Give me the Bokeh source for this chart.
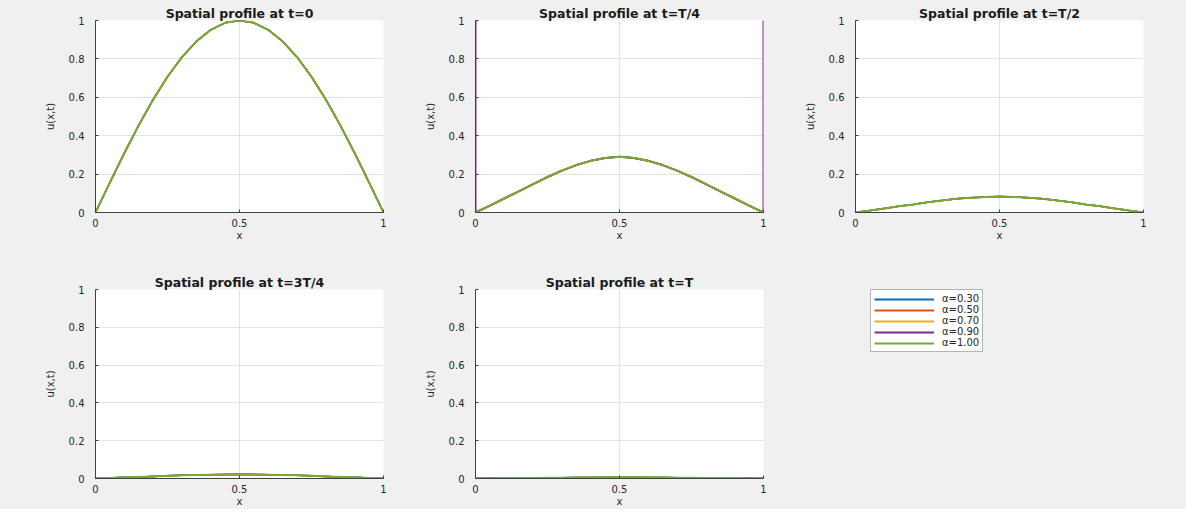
from bokeh.plotting import figure
from bokeh.layouts import column, row
from bokeh.models import Range1d, FixedTicker, Legend, LegendItem, CustomJSTickFormatter
from bokeh.embed import file_html
from bokeh.resources import INLINE

# ---------------- data ----------------
x = [0.0, 0.05, 0.10, 0.15, 0.20, 0.25, 0.30, 0.35, 0.40, 0.45, 0.50,
     0.55, 0.60, 0.65, 0.70, 0.75, 0.80, 0.85, 0.90, 0.95, 1.0]

alpha_labels = ["α=0.30", "α=0.50", "α=0.70", "α=0.90", "α=1.00"]
colors = ["#0072BD", "#D95319", "#EDB120", "#7E2F8E", "#77AC30"]

titles = ["Spatial profile at t=0", "Spatial profile at t=T/4", "Spatial profile at t=T/2",
          "Spatial profile at t=3T/4", "Spatial profile at t=T"]

u_t0 = [0.0, 0.156, 0.309, 0.454, 0.588, 0.707, 0.809, 0.891, 0.951, 0.988, 1.0,
        0.988, 0.951, 0.891, 0.809, 0.707, 0.588, 0.454, 0.309, 0.156, 0.0]
u_tT4 = [0.0, 0.036, 0.073, 0.110, 0.148, 0.185, 0.218, 0.247, 0.269, 0.284, 0.290,
         0.284, 0.269, 0.247, 0.218, 0.185, 0.148, 0.110, 0.073, 0.036, 0.0]
u_tT2 = [0.0, 0.010, 0.021, 0.032, 0.042, 0.053, 0.062, 0.071, 0.077, 0.081, 0.083,
         0.081, 0.077, 0.071, 0.062, 0.053, 0.042, 0.032, 0.021, 0.010, 0.0]
u_t3T4 = [0.0, 0.003, 0.006, 0.008, 0.011, 0.014, 0.017, 0.019, 0.020, 0.021, 0.022,
          0.021, 0.020, 0.019, 0.017, 0.014, 0.011, 0.008, 0.006, 0.003, 0.0]
u_tT = [0.0, 0.001, 0.002, 0.002, 0.003, 0.004, 0.004, 0.005, 0.005, 0.006, 0.006,
        0.006, 0.005, 0.005, 0.004, 0.004, 0.003, 0.002, 0.002, 0.001, 0.0]

# alpha = 0.90 at t=T/4 blows up at the two boundary points
x_a090_tT4 = [0.0, 0.0, 0.05, 0.10, 0.15, 0.20, 0.25, 0.30, 0.35, 0.40, 0.45, 0.50,
              0.55, 0.60, 0.65, 0.70, 0.75, 0.80, 0.85, 0.90, 0.95, 1.0, 1.0]
u_a090_tT4 = [5.0, 0.0, 0.036, 0.073, 0.110, 0.148, 0.185, 0.218, 0.247, 0.269, 0.284, 0.290,
              0.284, 0.269, 0.247, 0.218, 0.185, 0.148, 0.110, 0.073, 0.036, 0.0, 5.0]

profiles = [u_t0, u_tT4, u_tT2, u_t3T4, u_tT]

x_ticks = [0, 0.5, 1]
y_ticks = [0, 0.2, 0.4, 0.6, 0.8, 1]

# ---------------- style ----------------
BG = "#f0f0f0"
FONT = "DejaVu Sans"
TXT = "#262626"

fmt = CustomJSTickFormatter(code="return String(Math.round(tick*10)/10);")

# column geometry: (width, min_border_left, min_border_right)
cols = [(395, 95, 12), (380, 80, 12), (411, 80, 43)]
# row geometry: (height, min_border_top, min_border_bottom)
rows_g = [(267, 20, 55), (242, 20, 30)]


def make_fig(title, c, r):
    w, bl, br = cols[c]
    h, bt, bb = rows_g[r]
    p = figure(width=w, height=h, min_border_left=bl, min_border_right=br,
               min_border_top=bt, min_border_bottom=bb,
               x_range=Range1d(0, 1), y_range=Range1d(0, 1),
               output_backend="svg", toolbar_location=None, title=title)
    p.border_fill_color = BG
    p.background_fill_color = "white"
    p.outline_line_color = None
    p.title.text_font = FONT
    p.title.text_font_size = "12.5px"
    p.title.text_font_style = "bold"
    p.title.text_color = "#1a1a1a"
    p.title.align = "center"
    p.title.standoff = 0
    p.xaxis.ticker = FixedTicker(ticks=x_ticks)
    p.yaxis.ticker = FixedTicker(ticks=y_ticks)
    p.axis.formatter = fmt
    p.axis.major_tick_in = 3
    p.axis.major_tick_out = 0
    p.axis.minor_tick_line_color = None
    p.axis.axis_line_color = "#404040"
    p.axis.major_tick_line_color = "#404040"
    p.axis.major_label_text_font = FONT
    p.axis.major_label_text_font_size = "10px"
    p.axis.major_label_text_color = TXT
    p.axis.axis_label_text_font = FONT
    p.axis.axis_label_text_font_size = "10px"
    p.axis.axis_label_text_font_style = "normal"
    p.axis.axis_label_text_color = TXT
    p.xaxis.axis_label = "x"
    p.yaxis.axis_label = "u(x,t)"
    p.xaxis.major_label_standoff = 6
    p.xaxis.axis_label_standoff = 0
    p.yaxis.major_label_standoff = 11
    p.yaxis.axis_label_standoff = 10
    p.grid.grid_line_color = "#e2e2e2"
    p.grid.grid_line_width = 1
    return p


figs = []
positions = [(0, 0), (1, 0), (2, 0), (0, 1), (1, 1)]
for i, (title, prof) in enumerate(zip(titles, profiles)):
    c, r = positions[i]
    p = make_fig(title, c, r)
    for j, col in enumerate(colors):
        if i == 1 and j == 3:
            p.line(x_a090_tT4, u_a090_tT4, line_color=col, line_width=2)
        elif j == 4:
            p.line(x, prof, line_color=col, line_width=2)
        else:
            p.line(x, prof, line_color=col, line_width=1.5)
    figs.append(p)

# legend panel (sample lines are drawn outside the visible x range)
w, bl, br = cols[2]
h, bt, bb = rows_g[1]
pl = figure(width=w, height=h, min_border_left=95, min_border_right=10,
            min_border_top=22, min_border_bottom=10,
            x_range=Range1d(-3, -2), y_range=Range1d(0, 1),
            x_axis_type=None, y_axis_type=None,
            output_backend="svg", toolbar_location=None)
pl.border_fill_color = BG
pl.background_fill_color = BG
pl.outline_line_color = None
pl.grid.visible = False
items = []
for lab, col in zip(alpha_labels, colors):
    rr = pl.line(x, u_tT, line_color=col, line_width=2)
    items.append(LegendItem(label=lab, renderers=[rr]))
leg = Legend(items=items, location="top_left", margin=0, padding=3, spacing=0,
             glyph_width=60, glyph_height=10, label_height=10, label_standoff=8,
             border_line_color="#6a6a6a", border_line_width=1,
             background_fill_color="white", background_fill_alpha=1.0,
             label_text_font=FONT, label_text_font_size="10px", label_text_color=TXT)
pl.add_layout(leg)

bgs = {"background-color": BG}
layout = column(row(figs[0], figs[1], figs[2], styles=bgs),
                row(figs[3], figs[4], pl, styles=bgs), styles=bgs)

open("out.html", "w").write(file_html(layout, INLINE))
